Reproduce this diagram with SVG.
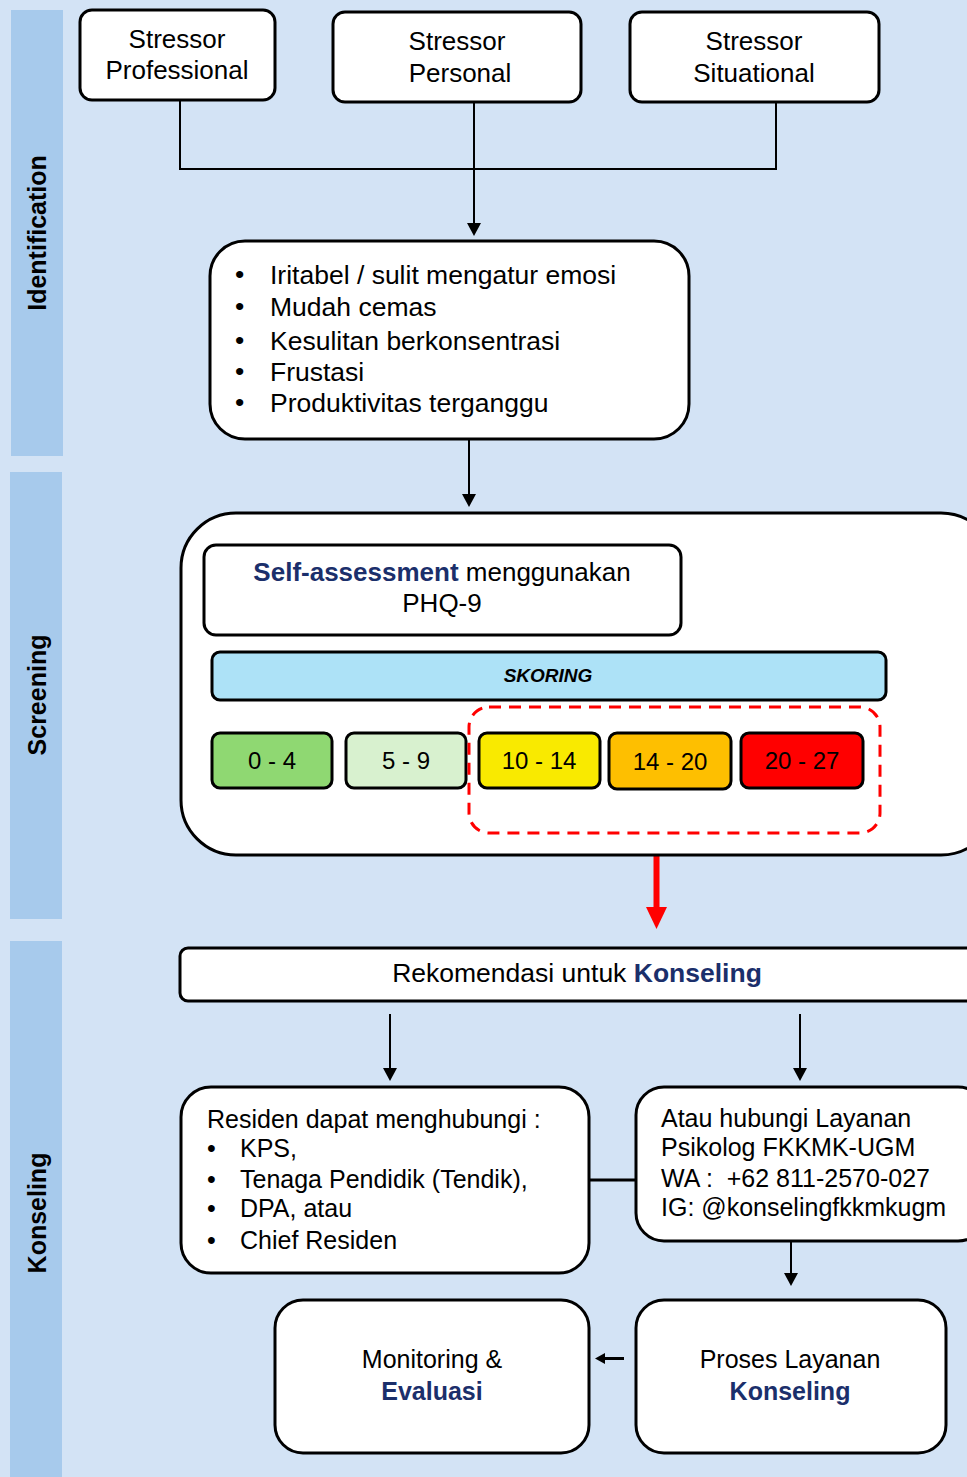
<svg xmlns="http://www.w3.org/2000/svg" width="967" height="1477" viewBox="0 0 967 1477">
<style>
text{font-family:"Liberation Sans",Arial,sans-serif;fill:#000}
.box{fill:#fff;stroke:#000;stroke-width:3}
.lane{fill:#A7CAEC}
.lbl{font-size:25px;font-weight:bold}
.t26{font-size:26.5px}
.t24{font-size:24px}
.t25{font-size:25px}
.kw{font-weight:bold;fill:#1B2F6B}
.ln{fill:none;stroke:#000;stroke-width:2}
.sc{stroke:#000;stroke-width:3}
</style>
<defs>
<marker id="ah" viewBox="0 0 13 14" refX="0" refY="7" markerWidth="13" markerHeight="14" markerUnits="userSpaceOnUse" orient="auto"><path d="M0,0 L13,7 L0,14 Z" fill="#000"/></marker>
<marker id="ahs" viewBox="0 0 10 11" refX="0" refY="5.5" markerWidth="10" markerHeight="11" markerUnits="userSpaceOnUse" orient="auto"><path d="M0,0 L10,5.5 L0,11 Z" fill="#000"/></marker>
<marker id="ahr" viewBox="0 0 22 21" refX="0" refY="10.5" markerWidth="22" markerHeight="21" markerUnits="userSpaceOnUse" orient="auto"><path d="M0,0 L22,10.5 L0,21 Z" fill="#F00"/></marker>
</defs>
<rect width="967" height="1477" fill="#D3E3F5"/>
<g id="lanes">
<rect class="lane" x="11" y="10" width="52" height="446"/>
<rect class="lane" x="10" y="472" width="52" height="447"/>
<rect class="lane" x="10" y="941" width="52" height="536"/>
<text class="lbl" transform="translate(46,233) rotate(-90)" text-anchor="middle">Identification</text>
<text class="lbl" transform="translate(46,695) rotate(-90)" text-anchor="middle">Screening</text>
<text class="lbl" transform="translate(46,1213) rotate(-90)" text-anchor="middle">Konseling</text>
</g>
<g id="connectors">
<path class="ln" d="M180,100 V169 H776 V102"/>
<path class="ln" d="M474,102 V223" marker-end="url(#ah)"/>
<path class="ln" d="M469,439 V494" marker-end="url(#ah)"/>
<path d="M656.5,833 V907" fill="none" stroke="#F00" stroke-width="6" marker-end="url(#ahr)"/>
<path class="ln" d="M390,1014 V1068" marker-end="url(#ah)"/>
<path class="ln" d="M800,1014 V1068" marker-end="url(#ah)"/>
<path d="M589,1180 H636" fill="none" stroke="#000" stroke-width="3"/>
<path class="ln" d="M791,1241 V1273" marker-end="url(#ah)"/>
<path d="M624,1358.5 H605" fill="none" stroke="#000" stroke-width="3" marker-end="url(#ahs)"/>
</g>
<g id="stressor-professional">
<rect class="box" x="80" y="10" width="195" height="90" rx="12"/>
<text x="177" y="48" text-anchor="middle" style="font-size:26px">Stressor</text>
<text x="177" y="79" text-anchor="middle" style="font-size:26px">Professional</text>
</g>
<g id="stressor-personal">
<rect class="box" x="333" y="12" width="248" height="90" rx="12"/>
<text x="457" y="50" text-anchor="middle" style="font-size:26px">Stressor</text>
<text x="460" y="82" text-anchor="middle" style="font-size:26px">Personal</text>
</g>
<g id="stressor-situational">
<rect class="box" x="630" y="12" width="249" height="90" rx="12"/>
<text x="754" y="50" text-anchor="middle" style="font-size:26px">Stressor</text>
<text x="754" y="82" text-anchor="middle" style="font-size:26px">Situational</text>
</g>
<g id="symptoms">
<rect class="box" x="210" y="241" width="479" height="198" rx="35"/>
<g class="t26">
<text x="235" y="283">•</text><text x="270" y="284">Iritabel / sulit mengatur emosi</text>
<text x="235" y="315">•</text><text x="270" y="316">Mudah cemas</text>
<text x="235" y="349">•</text><text x="270" y="350">Kesulitan berkonsentrasi</text>
<text x="235" y="380">•</text><text x="270" y="381">Frustasi</text>
<text x="235" y="411">•</text><text x="270" y="412">Produktivitas terganggu</text>
</g>
</g>
<g id="screening">
<rect class="box" x="181" y="513" width="815" height="342" rx="55"/>
<g id="self-assessment">
<rect class="box" x="204" y="545" width="477" height="90" rx="12"/>
<text x="442" y="581" text-anchor="middle" style="font-size:26px"><tspan class="kw">Self-assessment</tspan> menggunakan</text>
<text x="442" y="612" text-anchor="middle" style="font-size:26px">PHQ-9</text>
</g>
<g id="skoring">
<rect x="212" y="652" width="674" height="48" rx="8" fill="#ADE2F7" class="sc"/>
<text x="548" y="682" text-anchor="middle" style="font-size:19px;font-weight:bold;font-style:italic">SKORING</text>
</g>
<g id="score-0-4"><rect class="sc" x="212" y="733" width="120" height="55" rx="8" fill="#8FD872"/><text class="t24" x="272" y="769" text-anchor="middle">0 - 4</text></g>
<g id="score-5-9"><rect class="sc" x="346" y="733" width="120" height="55" rx="8" fill="#D8F1CF"/><text class="t24" x="406" y="769" text-anchor="middle">5 - 9</text></g>
<g id="score-10-14"><rect class="sc" x="479" y="733" width="121" height="55" rx="8" fill="#F9EA00"/><text class="t24" x="539" y="769" text-anchor="middle">10 - 14</text></g>
<g id="score-14-20"><rect class="sc" x="609" y="733" width="122" height="56" rx="8" fill="#FEBF00"/><text class="t24" x="670" y="770" text-anchor="middle">14 - 20</text></g>
<g id="score-20-27"><rect class="sc" x="741" y="733" width="122" height="55" rx="8" fill="#FF0000"/><text class="t24" x="802" y="769" text-anchor="middle">20 - 27</text></g>
<rect x="469" y="707" width="411" height="126" rx="20" fill="none" stroke="#F00" stroke-width="3" stroke-dasharray="12,8"/>
</g>
<g id="rekomendasi">
<rect class="box" x="180" y="948" width="805" height="53" rx="8"/>
<text x="577" y="982" text-anchor="middle" style="font-size:26.5px">Rekomendasi untuk <tspan class="kw">Konseling</tspan></text>
</g>
<g id="residen">
<rect class="box" x="181" y="1087" width="408" height="186" rx="30"/>
<g class="t25">
<text x="207" y="1128">Residen dapat menghubungi :</text>
<text x="207" y="1157">•</text><text x="240" y="1157">KPS,</text>
<text x="207" y="1188">•</text><text x="240" y="1188">Tenaga Pendidik (Tendik),</text>
<text x="207" y="1217">•</text><text x="240" y="1217">DPA, atau</text>
<text x="207" y="1249">•</text><text x="240" y="1249">Chief Residen</text>
</g>
</g>
<g id="layanan-psikolog">
<rect class="box" x="636" y="1087" width="350" height="154" rx="28"/>
<g class="t25">
<text x="661" y="1127">Atau hubungi Layanan</text>
<text x="661" y="1156">Psikolog FKKMK-UGM</text>
<text x="661" y="1187">WA : &#160;+62 811-2570-027</text>
<text x="661" y="1216">IG: @konselingfkkmkugm</text>
</g>
</g>
<g id="monitoring">
<rect class="box" x="275" y="1300" width="314" height="153" rx="28"/>
<text class="t25" x="432" y="1368" text-anchor="middle">Monitoring &amp;</text>
<text class="t25 kw" x="432" y="1400" text-anchor="middle">Evaluasi</text>
</g>
<g id="proses">
<rect class="box" x="636" y="1300" width="310" height="153" rx="28"/>
<text class="t25" x="790" y="1368" text-anchor="middle">Proses Layanan</text>
<text class="t25 kw" x="790" y="1400" text-anchor="middle">Konseling</text>
</g>
</svg>
